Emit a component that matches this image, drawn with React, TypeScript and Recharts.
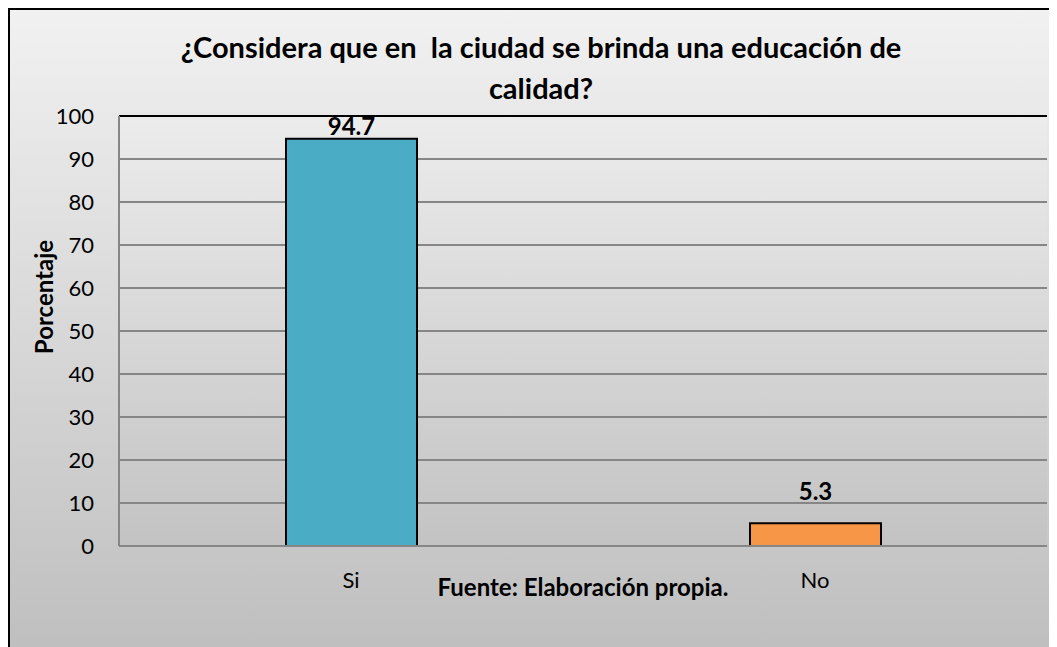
import { Bar, BarChart, CartesianGrid, Cell, LabelList, ReferenceLine, XAxis, YAxis } from "recharts";

const categories = ["Si", "No"];
const percentages = [94.7, 5.3];
const barColors = ["#4BACC6", "#F79646"];
const yTicks = [0, 10, 20, 30, 40, 50, 60, 70, 80, 90, 100];

// Excel placed the "No" label further above its bar
const labelGaps = [4, 23];

const FONT = "Lato, 'Open Sans', sans-serif";

const data = categories.map((name, i) => ({ name, value: percentages[i] }));

function YLabel({ viewBox }: any) {
  const cx = viewBox.x - 16;
  const cy = viewBox.y + viewBox.height / 2 - 34;
  return (
    <text
      x={cx}
      y={cy}
      transform={`rotate(-90 ${cx} ${cy})`}
      textAnchor="middle"
      dominantBaseline="central"
      fontFamily={FONT}
      fontWeight="bold"
      fontSize={24}
      fill="#000"
    >
      Porcentaje
    </text>
  );
}

function BarValue(props: any) {
  const { x, y, width, value, index } = props;
  return (
    <text
      x={x + width / 2}
      y={y - labelGaps[index]}
      textAnchor="middle"
      fontFamily={FONT}
      fontWeight="bold"
      fontSize={24}
      fill="#000"
    >
      {value}
    </text>
  );
}

export default function App() {
  return (
    <div
      style={{
        position: "relative",
        width: 1049,
        height: 639,
        boxSizing: "border-box",
        borderTop: "2px solid #000",
        borderLeft: "2px solid #000",
        background: "linear-gradient(#f1f1f1, #bfbfbf)",
        overflow: "hidden",
        fontFamily: FONT,
      }}
    >
      <div
        style={{
          position: "absolute",
          left: 0,
          top: 16,
          width: 1062,
          textAlign: "center",
          fontWeight: "bold",
          fontSize: 29,
          lineHeight: "41px",
          color: "#000",
        }}
      >
        ¿Considera que en&nbsp; la ciudad se brinda una educación de
        <br />
        calidad?
      </div>
      <BarChart
        width={1047}
        height={637}
        data={data}
        margin={{ top: 106, right: 10, bottom: 41, left: 49 }}
        style={{ position: "absolute", left: 0, top: 0 }}
      >
        <defs>
          <linearGradient id="plotBg" x1="0" y1="0" x2="0" y2="1">
            <stop offset="0%" stopColor="#ececec" />
            <stop offset="100%" stopColor="#c3c3c3" />
          </linearGradient>
        </defs>
        <CartesianGrid vertical={false} stroke="#868686" strokeWidth={2} fill="url(#plotBg)" fillOpacity={1} />
        <XAxis
          dataKey="name"
          height={60}
          axisLine={{ stroke: "#868686", strokeWidth: 2 }}
          tickLine={false}
          tickSize={0}
          tickMargin={26}
          tick={{ fontSize: 22, fill: "#000", fontFamily: FONT }}
          label={{
            value: "Fuente: Elaboración propia.",
            position: "insideBottom",
            offset: 10,
            style: { fontSize: 24, fontWeight: "bold", fill: "#000", fontFamily: FONT },
          }}
        />
        <YAxis
          width={60}
          domain={[0, 100]}
          ticks={yTicks}
          interval={0}
          axisLine={{ stroke: "#868686", strokeWidth: 2 }}
          tickLine={false}
          tickSize={0}
          tickMargin={25}
          tick={{ fontSize: 22, fill: "#000", fontFamily: FONT }}
          label={<YLabel />}
        />
        <YAxis
          yAxisId="right"
          orientation="right"
          width={0}
          domain={[0, 100]}
          tick={false}
          tickLine={false}
          axisLine={{ stroke: "#000", strokeWidth: 2 }}
        />
        <ReferenceLine y={100} stroke="#000" strokeWidth={2} />
        <Bar dataKey="value" barSize={131} stroke="#000" strokeWidth={2} isAnimationActive={false}>
          {data.map((d, i) => (
            <Cell key={d.name} fill={barColors[i]} />
          ))}
          <LabelList dataKey="value" content={<BarValue />} />
        </Bar>
      </BarChart>
    </div>
  );
}
